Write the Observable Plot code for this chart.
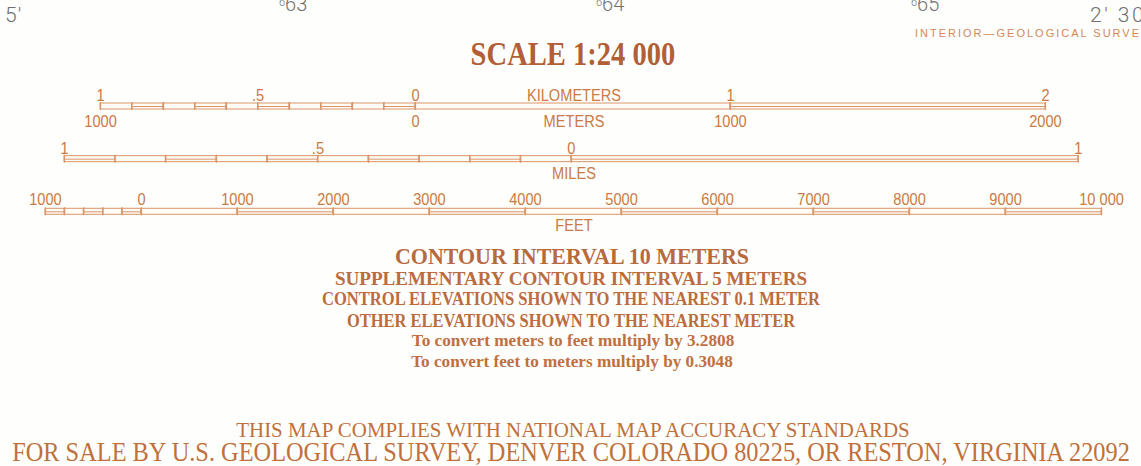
<!DOCTYPE html>
<html><head><meta charset="utf-8">
<script src="https://cdn.jsdelivr.net/npm/d3@7"></script>
<script src="https://cdn.jsdelivr.net/npm/@observablehq/plot@0.6"></script>
<style>
html,body{margin:0;padding:0;background:#fefefc;}
#page{position:relative;width:1141px;height:466px;overflow:hidden;}
.t{position:absolute;white-space:nowrap;line-height:0.8;}
#bars{position:absolute;left:0;top:85px;}
</style></head><body><div id="page"></div>
<script>
// ---------------- data ----------------
const kmValues = [-1, -0.5, 0, 1, 2];
const kmLabels = ["1", ".5", "0", "1", "2"];
const meterValues = [-1000, 0, 1000, 2000];
const meterLabels = ["1000", "0", "1000", "2000"];
const kmDivisions = [-1, -0.9, -0.8, -0.7, -0.6, -0.5, -0.4, -0.3, -0.2, -0.1, 0, 1, 2];
const kmFills = ["open","double","open","double","open","double","open","double","open","double","open","double"];

const mileValues = [-1, -0.5, 0, 1];
const mileLabels = ["1", ".5", "0", "1"];
const mileDivisions = [-1, -0.9, -0.8, -0.7, -0.6, -0.5, -0.4, -0.3, -0.2, -0.1, 0, 1];
const mileFills = ["double","open","double","open","double","open","double","open","double","open","double"];

const feetValues = [-1000, 0, 1000, 2000, 3000, 4000, 5000, 6000, 7000, 8000, 9000, 10000];
const feetLabels = ["1000","0","1000","2000","3000","4000","5000","6000","7000","8000","9000","10 000"];
const feetDivisions = [-1000, -800, -600, -400, -200, 0, 1000, 2000, 3000, 4000, 5000, 6000, 7000, 8000, 9000, 10000];
const feetFills = ["double","open","double","open","double","open","double","open","double","open","double","open","double","open","double"];

const unitNames = [
  {row: "km", name: "KILOMETERS", side: "above"},
  {row: "km", name: "METERS", side: "below"},
  {row: "mi", name: "MILES", side: "below"},
  {row: "ft", name: "FEET", side: "below"}
];

// unit lengths in metres (definitions) and layout offsets of each bar's zero (metres on the common x scale)
const bars = [
  {row: "km", unit: 1000, offset: 0, divisions: kmDivisions, fills: kmFills,
   above: {values: kmValues, labels: kmLabels, unit: 1000, dy: -10.5},
   below: {values: meterValues, labels: meterLabels, unit: 1, dy: 15.5}},
  {row: "mi", unit: 1609.344, offset: 495, divisions: mileDivisions, fills: mileFills,
   above: {values: mileValues, labels: mileLabels, unit: 1609.344, dy: -10.5}},
  {row: "ft", unit: 0.3048, offset: -870, divisions: feetDivisions, fills: feetFills,
   above: {values: feetValues, labels: feetLabels, unit: 0.3048, dy: -12.5}}
];

// ---------------- styles ----------------
const barStroke = "#d9956a";
const barFill = "#fffbf6";
const labelColor = "#c97a45";
const labelFont = "'Liberation Sans', Arial, sans-serif";
const labelSize = 17;
const labelSqueeze = 0.86;

// ---------------- tables ----------------
const segments = [];
const ticks = [];
const labels = [];
for (const b of bars) {
  for (let i = 0; i < b.fills.length; i++) {
    segments.push({row: b.row, x1: b.offset + b.divisions[i] * b.unit, x2: b.offset + b.divisions[i + 1] * b.unit, fill: b.fills[i]});
  }
  for (const d of b.divisions) ticks.push({row: b.row, x: b.offset + d * b.unit});
  for (const side of ["above", "below"]) {
    const s = b[side];
    if (!s) continue;
    s.values.forEach((v, i) => labels.push({row: b.row, x: b.offset + v * s.unit, text: s.labels[i], side}));
  }
}

const page = document.getElementById("page");

const textMarks = [];
for (const b of bars) {
  for (const side of ["above", "below"]) {
    const s = b[side];
    if (!s) continue;
    textMarks.push(Plot.text(labels.filter(d => d.row === b.row && d.side === side), {
      x: "x", y: "row", text: "text", dy: s.dy, fill: labelColor,
      fontFamily: labelFont, fontSize: labelSize, textAnchor: "middle", lineAnchor: "middle"
    }));
  }
}
const unitDy = {km: {above: -10.5, below: 15.5}, mi: {below: 14.5}, ft: {below: 13.5}};
for (const u of unitNames) {
  textMarks.push(Plot.text([u], {
    y: "row", text: "name", frameAnchor: "middle", dx: 3, dy: unitDy[u.row][u.side],
    fill: labelColor, fontFamily: labelFont, fontSize: labelSize, textAnchor: "middle", lineAnchor: "middle"
  }));
}

const chart = Plot.plot({
  width: 1141, height: 150, margin: 0,
  style: {background: "transparent", overflow: "visible"},
  x: {domain: [-1317.5, 2304.8], range: [0, 1141], axis: null},
  y: {type: "band", domain: ["km", "mi", "ft"], range: [18, 129.3], paddingInner: 0.886, paddingOuter: 0, round: false, axis: null},
  marks: [
    Plot.rect(segments, {x1: "x1", x2: "x2", y: "row", fill: barFill, stroke: barStroke, strokeWidth: 1}),
    Plot.ruleY(segments.filter(d => d.fill === "double"), {x1: "x1", x2: "x2", y: "row", stroke: barStroke, strokeWidth: 1}),
    Plot.tickX(ticks, {x: "x", y: "row", stroke: barStroke, strokeWidth: 1.2, insetTop: -1, insetBottom: -1}),
    ...textMarks
  ]
});
chart.id = "bars";
// condensed lettering: squeeze each label horizontally about its own anchor
chart.querySelectorAll("text").forEach(t => {
  const tr = t.getAttribute("transform");
  if (tr) {
    t.setAttribute("transform", tr + ` scale(${labelSqueeze},1)`);
  } else {
    const x = +(t.getAttribute("x") || 0), y = +(t.getAttribute("y") || 0);
    t.removeAttribute("x"); t.removeAttribute("y");
    t.setAttribute("transform", `translate(${x},${y}) scale(${labelSqueeze},1)`);
  }
});
page.appendChild(chart);

// ---------------- surrounding text ----------------
const serif = "'Liberation Serif', 'DejaVu Serif', serif";
const gray = "#707070";
const sup = "<span style='font-size:11px;vertical-align:5px'>6</span>";
const lines = [
  {html: "5′", left: 5, cy: 15, size: 21, family: "Roboto, 'Liberation Sans', sans-serif", weight: 300, color: gray, spacing: 1},
  {html: sup + "63", left: 279, cy: 4, size: 20, family: "Roboto, 'Liberation Sans', sans-serif", weight: 300, color: gray},
  {html: sup + "64", left: 596, cy: 4, size: 20, family: "Roboto, 'Liberation Sans', sans-serif", weight: 300, color: gray},
  {html: sup + "65", left: 911, cy: 4, size: 20, family: "Roboto, 'Liberation Sans', sans-serif", weight: 300, color: gray},
  {html: "2′ 30″", left: 1090, cy: 15, size: 21, family: "Roboto, 'Liberation Sans', sans-serif", weight: 300, color: gray, spacing: 2.5},
  {html: "INTERIOR—GEOLOGICAL SURVEY", left: 915, cy: 33, size: 11, family: "'Liberation Sans', sans-serif", weight: 400, color: "#d4875a", spacing: 2},
  {html: "SCALE 1:24 000", cx: 573, cy: 53.5, size: 34, family: serif, weight: 700, color: "#b25f37", w: 205},
  {html: "CONTOUR INTERVAL 10 METERS", cx: 572, cy: 257, size: 24, family: serif, weight: 700, color: "#b8693e", w: 354},
  {html: "SUPPLEMENTARY CONTOUR INTERVAL 5 METERS", cx: 571, cy: 278.5, size: 19.5, family: serif, weight: 700, color: "#bb6c3f", w: 472},
  {html: "CONTROL ELEVATIONS SHOWN TO THE NEAREST 0.1 METER", cx: 571, cy: 299, size: 18, family: serif, weight: 700, color: "#bb6c3f", w: 498},
  {html: "OTHER ELEVATIONS SHOWN TO THE NEAREST METER", cx: 571, cy: 320.5, size: 18, family: serif, weight: 700, color: "#bb6c3f", w: 448},
  {html: "To convert meters to feet multiply by 3.2808", cx: 572.5, cy: 341, size: 17, family: serif, weight: 700, color: "#bf7040", w: 323},
  {html: "To convert feet to meters multiply by 0.3048", cx: 572, cy: 362, size: 17, family: serif, weight: 700, color: "#bf7040", w: 322},
  {html: "THIS MAP COMPLIES WITH NATIONAL MAP ACCURACY STANDARDS", cx: 573, cy: 429.5, size: 20.5, family: serif, weight: 400, color: "#c0703a", w: 674},
  {html: "FOR SALE BY U.S. GEOLOGICAL SURVEY, DENVER COLORADO 80225, OR RESTON, VIRGINIA 22092", cx: 571, cy: 452.5, size: 26.5, family: serif, weight: 400, color: "#c0703a", w: 1118}
];
const els = [];
for (const l of lines) {
  const el = document.createElement("div");
  el.className = "t";
  el.innerHTML = l.html;
  Object.assign(el.style, {
    fontSize: l.size + "px", fontFamily: l.family, fontWeight: l.weight, color: l.color,
    top: l.cy + "px", letterSpacing: (l.spacing || 0) + "px"
  });
  el.style.left = (l.cx != null ? l.cx : l.left) + "px";
  page.appendChild(el);
  els.push([el, l]);
}
function fit() {
  for (const [el, l] of els) {
    const natural = el.offsetWidth;
    const s = l.w ? l.w / natural : 1;
    el.style.transformOrigin = l.cx != null ? "50% 50%" : "0 50%";
    el.style.transform = (l.cx != null ? "translate(-50%,-50%) " : "translate(0,-50%) ") + `scaleX(${s})`;
  }
}
fit();
if (document.fonts && document.fonts.ready) document.fonts.ready.then(fit);
</script>
</body></html>
